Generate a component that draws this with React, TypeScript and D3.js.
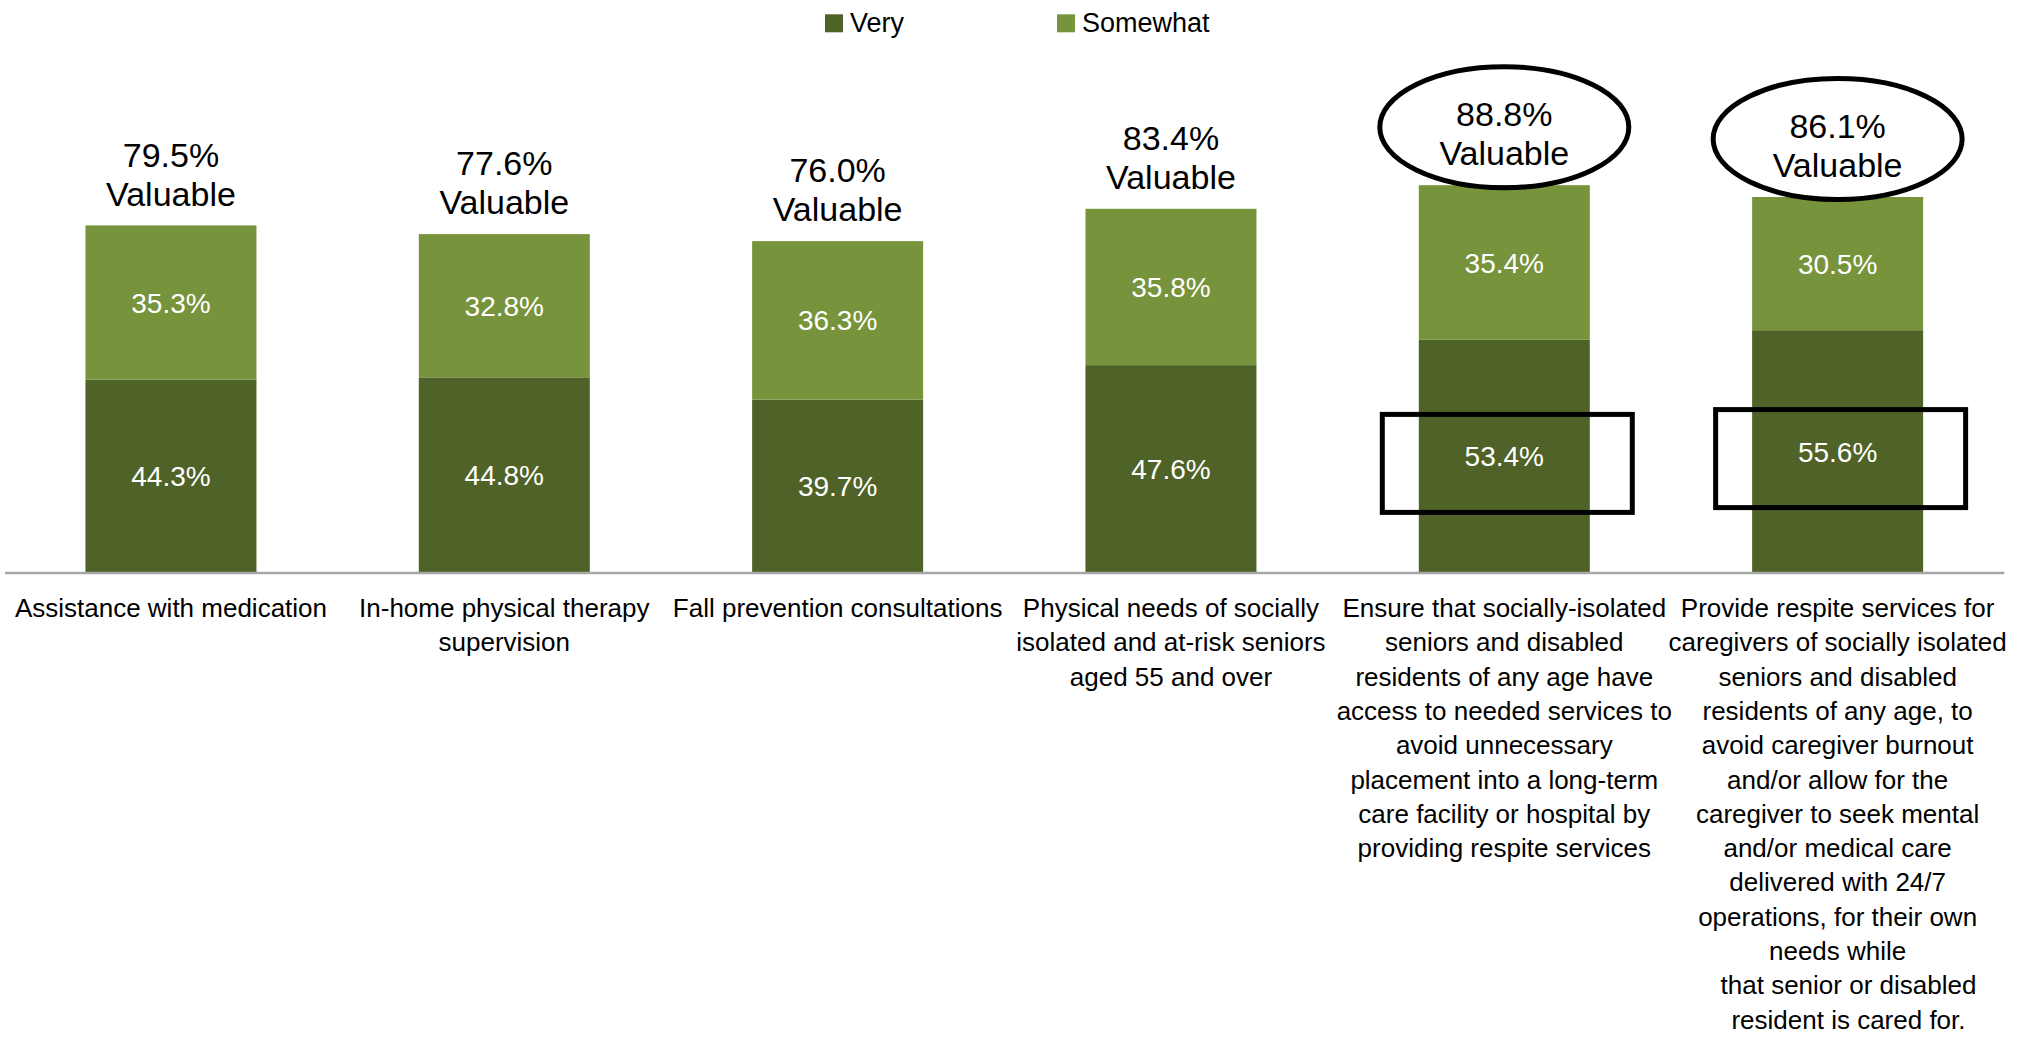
import React from "react";
import * as d3 from "d3";

const categories: string[] = [
  "Assistance with medication",
  "In-home physical therapy supervision",
  "Fall prevention consultations",
  "Physical needs of socially isolated and at-risk seniors aged 55 and over",
  "Ensure that socially-isolated seniors and disabled residents",
  "Provide respite services for caregivers",
];

const categoryLines: string[][] = [
  ["Assistance with medication"],
  ["In-home physical therapy", "supervision"],
  ["Fall prevention consultations"],
  ["Physical needs of socially", "isolated and at-risk seniors", "aged 55 and over"],
  [
    "Ensure that socially-isolated",
    "seniors and disabled",
    "residents of any age have",
    "access to needed services to",
    "avoid unnecessary",
    "placement into a long-term",
    "care facility or hospital by",
    "providing respite services",
  ],
  [
    "Provide respite services for",
    "caregivers of socially isolated",
    "seniors and disabled",
    "residents of any age, to",
    "avoid caregiver burnout",
    "and/or allow for the",
    "caregiver to seek mental",
    "and/or medical care",
    "delivered with 24/7",
    "operations, for their own",
    "needs while",
    "\u00a0\u00a0\u00a0that senior or disabled",
    "\u00a0\u00a0\u00a0resident is cared for.",
  ],
];

const veryValues: number[] = [44.3, 44.8, 39.7, 47.6, 53.4, 55.6];
const somewhatValues: number[] = [35.3, 32.8, 36.3, 35.8, 35.4, 30.5];
const totalValues: number[] = [79.5, 77.6, 76.0, 83.4, 88.8, 86.1];
const highlighted: boolean[] = [false, false, false, false, true, true];

const seriesNames: string[] = ["Very", "Somewhat"];
const seriesColors: string[] = ["#4F6228", "#77933C"];

const W = 2021;
const H = 1037;
const FONT = "'Liberation Sans', Arial, Helvetica, sans-serif";

export default function App() {
  const x = d3
    .scaleBand<string>()
    .domain(categories)
    .range([4.3, 2004.3])
    .paddingInner(0.487)
    .paddingOuter(0.2435);
  const y = d3.scaleLinear().domain([0, 100]).range([573, 136.3]);

  const stackData = categories.map((c, i) => ({
    cat: c,
    Very: veryValues[i],
    Somewhat: somewhatValues[i],
  }));
  const stack = d3.stack<any>().keys(seriesNames)(stackData);

  const bw = x.bandwidth();
  const lineH = 34.3;
  const labelTop = 617;

  return (
    <svg
      width={W}
      height={H}
      style={{ position: "absolute", left: 0, top: 0, display: "block", background: "#fff" }}
      fontFamily={FONT}
    >
      {/* legend */}
      {seriesNames.map((s, i) => {
        const lx = 825 + i * 232;
        return (
          <g key={s}>
            <rect x={lx} y={14.3} width={18} height={18} fill={seriesColors[i]} />
            <text x={lx + 25} y={32} fontSize={27} fill="#000">
              {s}
            </text>
          </g>
        );
      })}

      {/* bars */}
      {stack.map((layer, si) => (
        <g key={layer.key} fill={seriesColors[si]}>
          {layer.map((d, i) => (
            <rect
              key={i}
              x={x(categories[i])!}
              y={y(d[1])}
              width={bw}
              height={y(d[0]) - y(d[1])}
            />
          ))}
        </g>
      ))}

      {/* segment labels */}
      {stack.map((layer) =>
        layer.map((d, i) => (
          <text
            key={layer.key + i}
            x={x(categories[i])! + bw / 2}
            y={(y(d[0]) + y(d[1])) / 2}
            dy="0.36em"
            textAnchor="middle"
            fontSize={28}
            fill="#fff"
          >
            {(d[1] - d[0]).toFixed(1)}%
          </text>
        ))
      )}

      {/* axis line */}
      <line x1={5} x2={2004.3} y1={y(0)} y2={y(0)} stroke="#A6A6A6" strokeWidth={2.5} />

      {/* totals */}
      {totalValues.map((t, i) => {
        const cx = x(categories[i])! + bw / 2;
        const top = y(t);
        return (
          <g key={i}>
            <text x={cx} y={top - 59} textAnchor="middle" fontSize={34} fill="#000">
              {t.toFixed(1)}%
            </text>
            <text x={cx} y={top - 20} textAnchor="middle" fontSize={34} fill="#000">
              Valuable
            </text>
          </g>
        );
      })}

      {/* highlights */}
      {highlighted.map((h, i) => {
        if (!h) return null;
        const cx = x(categories[i])! + bw / 2;
        const top = y(totalValues[i]);
        const midVery = (y(0) + y(veryValues[i])) / 2;
        return (
          <g key={"hl" + i} fill="none" stroke="#000" strokeWidth={5}>
            <ellipse cx={cx} cy={top - 58} rx={124.5} ry={60.5} />
            <rect x={cx + 3 - 125} y={midVery + 7 - 49} width={250} height={98} />
          </g>
        );
      })}

      {/* category labels */}
      {categoryLines.map((lines, i) => {
        const cx = x(categories[i])! + bw / 2;
        return (
          <text key={"c" + i} textAnchor="middle" fontSize={26} fill="#000">
            {lines.map((ln, j) => (
              <tspan key={j} x={cx} y={labelTop + j * lineH}>
                {ln}
              </tspan>
            ))}
          </text>
        );
      })}
    </svg>
  );
}
